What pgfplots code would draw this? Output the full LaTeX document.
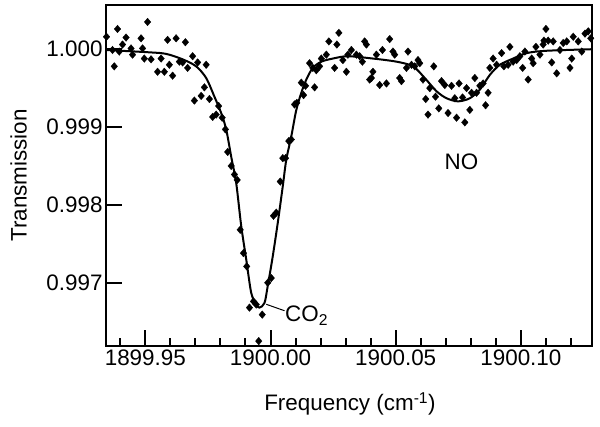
\documentclass[border=0pt]{standalone}
\usepackage{pgfplots}
\pgfplotsset{compat=1.18}
\usepackage{pgfplotstable}
\usepackage{fontspec}
\setmainfont{Liberation Sans}

% x values are given in full (cm^-1); the transformation below subtracts 1900
% with plain TeX dimension arithmetic so that no precision is lost.
\newdimen\freqdim
\makeatletter
\pgfplotsset{x coord trafo/.code={\freqdim=#1pt\relax\advance\freqdim by -1900pt\relax\edef\pgfmathresult{\strip@pt\freqdim}}}
\makeatother

\pgfplotstableread{
x y
1899.9345 1.00016
1899.9389 1.00026
1899.9423 1.00015
1899.9509 1.00035
1899.9369 0.99999
1899.9409 1.00006
1899.9443 1.00001
1899.9483 1.00014
1899.9449 0.99993
1899.9396 0.99997
1899.9376 0.99978
1899.9489 1.00001
1899.9496 0.99988
1899.9523 0.99987
1899.9563 0.99988
1899.9549 0.99971
1899.9576 0.99971
1899.9589 1.00012
1899.9623 1.00014
1899.9660 1.00009
1899.9596 0.99980
1899.9609 0.99966
1899.9636 0.99984
1899.9649 0.99983
1899.9669 0.99976
1899.9689 0.99991
1899.9709 0.99983
1899.9743 0.99980
1899.9696 0.99934
1899.9723 0.99940
1899.9736 0.99951
1899.9756 0.99936
1899.9769 0.99913
1899.9783 0.99916
1899.9793 0.99927
1899.9807 0.99912
1899.9820 0.99897
1899.9829 0.99868
1899.9843 0.99850
1899.9856 0.99839
1899.9867 0.99832
1899.9879 0.99768
1899.9892 0.99738
1899.9905 0.99721
1899.9916 0.99668
1899.9932 0.99676
1899.9943 0.99672
1899.9967 0.99659
1899.9953 0.99625
1899.9989 0.99700
1900.0003 0.99706
1900.0012 0.99786
1900.0023 0.99790
1900.0039 0.99830
1900.0049 0.99860
1900.0060 0.99860
1900.0073 0.99882
1900.0083 0.99884
1900.0096 0.99929
1900.0105 0.99931
1900.0123 0.99957
1900.0132 0.99941
1900.0140 0.99953
1900.0156 0.99982
1900.0169 0.99976
1900.0183 0.99973
1900.0176 0.99951
1900.0196 0.99978
1900.0203 0.99988
1900.0223 0.99993
1900.0233 1.00010
1900.0265 1.00006
1900.0273 1.00021
1900.0289 0.99986
1900.0256 0.99976
1900.0303 0.99971
1900.0309 0.99993
1900.0323 0.99999
1900.0343 0.99993
1900.0356 0.99991
1900.0367 0.99984
1900.0376 1.00010
1900.0383 1.00006
1900.0409 0.99971
1900.0403 0.99963
1900.0396 0.99961
1900.0423 0.99993
1900.0436 0.99954
1900.0447 0.99999
1900.0463 0.99956
1900.0476 1.00013
1900.0489 0.99997
1900.0496 0.99993
1900.0516 0.99963
1900.0523 0.99959
1900.0543 0.99976
1900.0549 0.99997
1900.0563 0.99980
1900.0576 0.99978
1900.0589 0.99986
1900.0596 0.99982
1900.0609 0.99961
1900.0620 0.99936
1900.0629 0.99916
1900.0636 0.99950
1900.0652 0.99978
1900.0659 0.99939
1900.0672 0.99924
1900.0683 0.99959
1900.0696 0.99954
1900.0709 0.99918
1900.0723 0.99953
1900.0736 0.99937
1900.0743 0.99912
1900.0753 0.99956
1900.0767 0.99938
1900.0776 0.99906
1900.0783 0.99950
1900.0796 0.99922
1900.0803 0.99944
1900.0816 0.99963
1900.0823 0.99944
1900.0836 0.99953
1900.0849 0.99956
1900.0859 0.99928
1900.0869 0.99944
1900.0876 0.99976
1900.0889 0.99988
1900.0903 0.99980
1900.0923 0.99995
1900.0932 0.99978
1900.0956 1.00003
1900.0949 0.99980
1900.0969 0.99984
1900.0983 0.99986
1900.0996 0.99991
1900.1007 0.99976
1900.1016 0.99997
1900.1029 0.99961
1900.1043 0.99988
1900.1049 0.99982
1900.1060 1.00003
1900.1076 0.99993
1900.1089 1.00006
1900.1100 1.00026
1900.1092 1.00011
1900.1109 1.00011
1900.1129 1.00010
1900.1123 0.99983
1900.1143 0.99969
1900.1156 0.99999
1900.1169 1.00008
1900.1183 1.00010
1900.1196 0.99976
1900.1203 0.99988
1900.1209 1.00016
1900.1229 1.00010
1900.1243 0.99997
1900.1256 1.00020
1900.1269 1.00023
1900.1279 1.00014
}\measured

\pgfplotstableread{
x y
1899.9343 0.99999
1899.9516 0.99996
1899.9583 0.99994
1899.9649 0.99987
1899.9703 0.99978
1899.9743 0.99963
1899.9776 0.99939
1899.9803 0.99918
1899.9823 0.99897
1899.9843 0.99862
1899.9863 0.99828
1899.9883 0.99773
1899.9903 0.99730
1899.9923 0.99687
1899.9943 0.99672
1899.9956 0.99668
1899.9976 0.99674
1899.9989 0.99696
1900.0009 0.99734
1900.0029 0.99777
1900.0049 0.99824
1900.0063 0.99858
1900.0083 0.99888
1900.0103 0.99922
1900.0123 0.99944
1900.0143 0.99961
1900.0169 0.99976
1900.0203 0.99984
1900.0249 0.99988
1900.0309 0.99991
1900.0409 0.99988
1900.0503 0.99984
1900.0569 0.99978
1900.0616 0.99963
1900.0663 0.99946
1900.0703 0.99937
1900.0749 0.99933
1900.0796 0.99937
1900.0836 0.99948
1900.0876 0.99967
1900.0916 0.99980
1900.0969 0.99988
1900.1023 0.99995
1900.1103 0.99998
1900.1284 1.00000
}\fitted

\begin{document}
\begin{tikzpicture}[x=1bp,y=1bp]
\useasboundingbox (0,0) rectangle (600,426);
\begin{axis}[
  at={(106bp,80bp)}, anchor=south west,
  width=486bp, height=341bp, scale only axis,
  xmin=1899.9343, xmax=1900.1284,
  ymin=0.996187, ymax=1.000568,
  axis line style={line width=2.6bp},
  every tick/.style={line width=2bp, black},
  tick align=inside,
  xtick pos=bottom, ytick pos=left,
  major tick length=16bp, minor tick length=8bp,
  xtick={1899.95,1900.00,1900.05,1900.10},
  xticklabels={1899.95,1900.00,1900.05,1900.10},
  minor xtick={1899.94,1899.96,1899.97,1899.98,1899.99,1900.01,1900.02,1900.03,1900.04,1900.06,1900.07,1900.08,1900.09,1900.11,1900.12},
  ytick={0.997,0.998,0.999,1.000},
  yticklabel style={/pgf/number format/.cd, fixed, fixed zerofill, precision=3, assume math mode=true},
  ticklabel style={font=\fontsize{22.5}{25}\selectfont},
  scaled y ticks=false,
  xlabel={Frequency (cm\textsuperscript{-1})},
  ylabel={Transmission},
  label style={font=\fontsize{22.5}{25}\selectfont},
  xlabel style={at={(axis description cs:0.502,-0.17)}, anchor=center},
  ylabel style={at={(axis description cs:-0.18,0.5)}, anchor=center},
]
\addplot[only marks, mark=diamond*, mark size=3.8bp, mark options={xscale=1.15, fill=black, draw=black, line width=0.3bp}] table[x=x,y=y] {\measured};
\addplot[smooth, line width=2bp, black, no markers] table[x=x,y=y] {\fitted};
\draw[line width=1bp] (axis cs:1899.9983,0.996723) -- (axis cs:1900.0056,0.996640);
\node[anchor=west, inner sep=0pt, font=\fontsize{22.5}{25}\selectfont] at (axis cs:1900.0058,0.996580) {CO\textsubscript{2}};
\node[font=\fontsize{22.5}{25}\selectfont] at (axis cs:1900.0763,0.998559) {NO};
\end{axis}
\end{tikzpicture}
\end{document}
